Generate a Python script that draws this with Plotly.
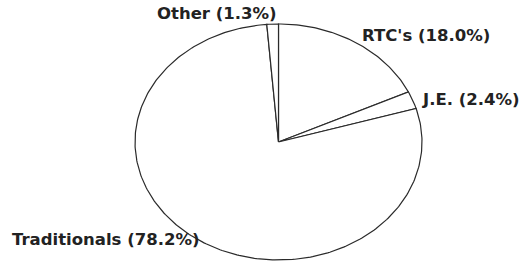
import numpy as np
import plotly.graph_objects as go

# Data (clockwise from 12 o'clock)
categories = ["RTC's", "J.E.", "Traditionals", "Other"]
shares = [18.0, 2.4, 78.2, 1.3]
labels = ["RTC's (18.0%)", "J.E. (2.4%)", "Traditionals (78.2%)", "Other (1.3%)"]

W, H = 521, 262
# ellipse geometry in window pixels (layout)
CX, CY, RX, RY = 278.5, 142.0, 143.5, 118.0

total = sum(shares)
cum = np.concatenate([[0.0], np.cumsum(shares) / total])

fig = go.Figure()
for i, name in enumerate(categories):
    t0, t1 = 2 * np.pi * cum[i], 2 * np.pi * cum[i + 1]
    n = max(4, int(np.ceil((t1 - t0) / (2 * np.pi) * 400)))
    th = np.linspace(t0, t1, n)
    u = np.concatenate([[0.0], np.sin(th), [0.0]])
    v = np.concatenate([[0.0], np.cos(th), [0.0]])
    fig.add_trace(go.Scatter(
        x=u, y=v, mode="lines", fill="toself", fillcolor="white",
        line=dict(color="#2a2a2a", width=1.2), name=name,
        hoverinfo="name", showlegend=False,
    ))

# axis ranges so the unit circle maps to the ellipse
xr = [(0 - CX) / RX, (W - CX) / RX]
yr = [(CY - H) / RY, CY / RY]

label_pos = {  # left edge x, vertical centre y (window pixels)
    "Other (1.3%)": (155, 14),
    "RTC's (18.0%)": (360, 35),
    "J.E. (2.4%)": (420, 99),
    "Traditionals (78.2%)": (10, 239),
}
for txt, (px, py) in label_pos.items():
    fig.add_annotation(
        x=px / W, y=1 - py / H, xref="paper", yref="paper",
        xanchor="left", yanchor="middle", text=txt, showarrow=False,
        font=dict(family="DejaVu Sans", size=16.5, color="#222222", weight="bold"),
    )

fig.update_layout(
    width=W, height=H, margin=dict(l=0, r=0, t=0, b=0),
    paper_bgcolor="white", plot_bgcolor="white",
    xaxis=dict(range=xr, visible=False, fixedrange=True),
    yaxis=dict(range=yr, visible=False, fixedrange=True),
    showlegend=False,
)
fig.write_html(
    "out.html",
    config={"displayModeBar": False, "staticPlot": True},
    post_script="document.body.style.margin='0';document.body.style.overflow='hidden';",
)
